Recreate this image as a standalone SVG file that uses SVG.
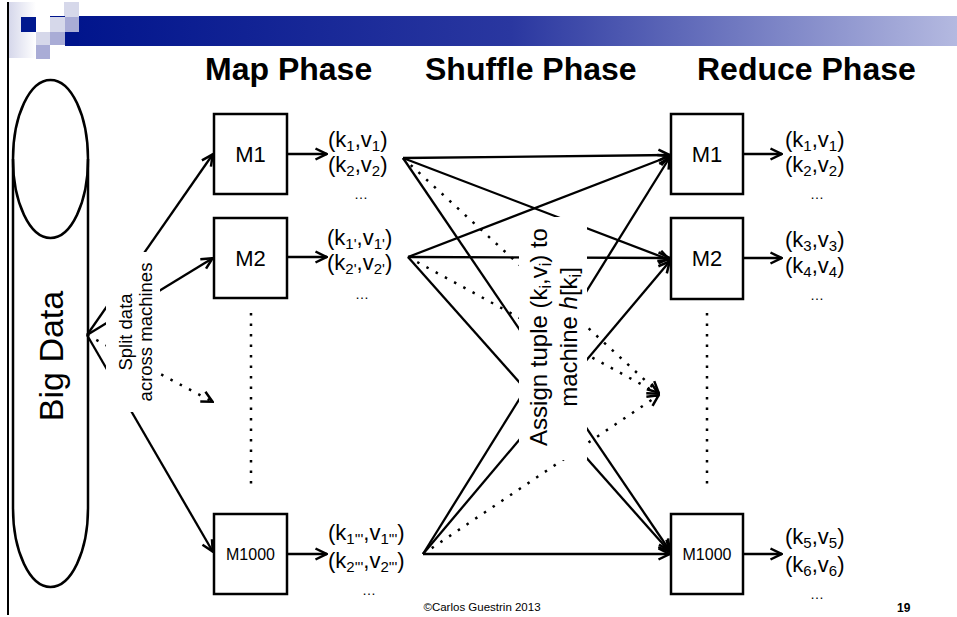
<svg xmlns="http://www.w3.org/2000/svg" width="957" height="617" viewBox="0 0 957 617">
<defs>
<linearGradient id="bar" x1="65" y1="0" x2="957" y2="0" gradientUnits="userSpaceOnUse">
<stop offset="0" stop-color="#00148c"/>
<stop offset="0.5" stop-color="#2a37a0"/>
<stop offset="1" stop-color="#b4b9e0"/>
</linearGradient>
<linearGradient id="lite" x1="0" y1="0" x2="1" y2="0">
<stop offset="0" stop-color="#d4d6ea"/>
<stop offset="1" stop-color="#ffffff"/>
</linearGradient>
<marker id="arr" viewBox="0 0 14 14" refX="13" refY="7" markerWidth="14" markerHeight="14" markerUnits="userSpaceOnUse" orient="auto">
<path d="M1.5,1.5 L12.5,7 L1.5,12.5" fill="none" stroke="#000" stroke-width="2.5"/>
</marker>
</defs>
<style>
.ln{stroke:#000;stroke-width:2.5;fill:none}
.ar{stroke:#000;stroke-width:2.3;fill:none;marker-end:url(#arr)}
.dt{stroke:#000;stroke-width:2.5;fill:none;stroke-dasharray:2.5 8}
.dta{stroke:#000;stroke-width:2.5;fill:none;stroke-dasharray:2.5 8;marker-end:url(#arr)}
.box{fill:#fff;stroke:#000;stroke-width:2.5}
.t{font-family:"Liberation Sans",Arial,sans-serif;fill:#000}
.ttl{font-family:"Liberation Sans",Arial,sans-serif;font-weight:bold;font-size:32px}
.kv{font-family:"Liberation Sans",Arial,sans-serif;font-size:22px}
.sb{font-size:15px}
.el{font-family:"Liberation Sans",Arial,sans-serif;font-size:14px;text-anchor:middle}
</style>
<rect width="957" height="617" fill="#fff"/>
<g id="header">
<rect x="8" y="2" width="28" height="56" fill="url(#lite)"/>
<rect x="21" y="17" width="15" height="15" fill="#00188f"/>
<rect x="50" y="17" width="15" height="15" fill="#d6d8ea"/>
<rect x="64" y="2" width="15" height="15" fill="#d6d8ea"/>
<rect x="65" y="17" width="14" height="15" fill="#a9acd6"/>
<rect x="36" y="32" width="14" height="13" fill="#d6d8ea"/>
<rect x="50" y="32" width="15" height="13" fill="#a9acd6"/>
<rect x="36" y="45" width="14" height="14" fill="#a9acd6"/>
<rect x="79" y="16" width="878" height="30" fill="url(#bar)"/>
<rect x="65" y="32" width="14" height="14" fill="#00148c"/>
<line x1="50" y1="16.5" x2="65" y2="16.5" stroke="#00148c" stroke-width="1"/>
<line x1="8" y1="2" x2="8" y2="615" stroke="#000" stroke-width="2"/>
</g>
<g id="titles">
<text class="ttl" x="205" y="80">Map Phase</text>
<text class="ttl" x="425" y="80">Shuffle Phase</text>
<text class="ttl" x="697" y="80">Reduce Phase</text>
</g>
<g id="bigdata">
<path class="ln" d="M13,159 L13,508 A37.5,79 0 0 0 88,508 L88,159"/>
<ellipse cx="50.5" cy="159" rx="37.5" ry="79" class="ln"/>
<text class="t" font-size="34" text-anchor="middle" transform="translate(63,356) rotate(-90)">Big Data</text>
</g>
<g id="connectors">
<line class="ar" x1="87" y1="335" x2="213" y2="154"/>
<line class="ar" x1="87" y1="335" x2="213" y2="258"/>
<line class="ar" x1="87" y1="335" x2="213" y2="552"/>
<line class="dta" x1="87" y1="335" x2="213" y2="402"/>
<line class="ar" x1="287" y1="154" x2="327" y2="154"/>
<line class="ar" x1="287" y1="257" x2="327" y2="257"/>
<line class="ar" x1="287" y1="554" x2="327" y2="554"/>
<line class="ar" x1="743" y1="154" x2="782" y2="154"/>
<line class="ar" x1="743" y1="258" x2="782" y2="258"/>
<line class="ar" x1="743" y1="554" x2="782" y2="554"/>
<line class="dt" x1="251" y1="313" x2="251" y2="490"/>
<line class="dt" x1="707" y1="313" x2="707" y2="490"/>
<line class="ar" x1="403" y1="158" x2="670" y2="155"/>
<line class="ar" x1="403" y1="158" x2="670" y2="260"/>
<line class="ar" x1="403" y1="158" x2="670" y2="551"/>
<line class="dta" x1="403" y1="158" x2="659" y2="393"/>
<line class="ar" x1="408" y1="257" x2="670" y2="156"/>
<line class="ar" x1="408" y1="257" x2="670" y2="258"/>
<line class="ar" x1="408" y1="257" x2="670" y2="552"/>
<line class="dta" x1="408" y1="257" x2="659" y2="394"/>
<line class="ar" x1="423" y1="554" x2="670" y2="157"/>
<line class="ar" x1="423" y1="554" x2="670" y2="261"/>
<line class="ar" x1="423" y1="554" x2="670" y2="554"/>
<line class="dta" x1="423" y1="554" x2="659" y2="395"/>
</g>
<g id="split-label">
<rect x="106" y="252" width="54" height="160" fill="#fff"/>
<text class="t" font-size="18.5" text-anchor="middle" transform="translate(132,332) rotate(-90)">Split data</text>
<text class="t" font-size="18.5" text-anchor="middle" transform="translate(152,332) rotate(-90)">across machines</text>
</g>
<g id="assign-label">
<rect x="519" y="217" width="68" height="243" fill="#fff"/>
<text class="t" font-size="24" text-anchor="middle" transform="translate(547,337) rotate(-90)">Assign tuple (k<tspan font-size="16" dy="4">i</tspan><tspan dy="-4">,v</tspan><tspan font-size="16" dy="4">i</tspan><tspan dy="-4">) to</tspan></text>
<text class="t" font-size="24" text-anchor="middle" transform="translate(577,337) rotate(-90)">machine  <tspan font-style="italic">h</tspan>[k<tspan font-size="16" dy="4">i</tspan><tspan dy="-4">]</tspan></text>
</g>
<g id="map-M1">
<rect class="box" x="214" y="114" width="73" height="80"/>
<text class="t" font-size="22" text-anchor="middle" x="250.5" y="162">M1</text>
<text class="kv" x="328" y="147">(k<tspan class="sb" dy="4">1</tspan><tspan dy="-4">,v</tspan><tspan class="sb" dy="4">1</tspan><tspan dy="-4">)</tspan></text>
<text class="kv" x="328" y="172">(k<tspan class="sb" dy="4">2</tspan><tspan dy="-4">,v</tspan><tspan class="sb" dy="4">2</tspan><tspan dy="-4">)</tspan></text>
<text class="el" x="361" y="199">…</text>
</g>
<g id="map-M2">
<rect class="box" x="214" y="218" width="73" height="80"/>
<text class="t" font-size="22" text-anchor="middle" x="250.5" y="266">M2</text>
<text class="kv" x="327" y="245">(k<tspan class="sb" dy="4">1'</tspan><tspan dy="-4">,v</tspan><tspan class="sb" dy="4">1'</tspan><tspan dy="-4">)</tspan></text>
<text class="kv" x="327" y="270">(k<tspan class="sb" dy="4">2'</tspan><tspan dy="-4">,v</tspan><tspan class="sb" dy="4">2'</tspan><tspan dy="-4">)</tspan></text>
<text class="el" x="362" y="299">…</text>
</g>
<g id="map-M1000">
<rect class="box" x="214" y="514" width="73" height="80"/>
<text class="t" font-size="16" text-anchor="middle" x="250.5" y="560">M1000</text>
<text class="kv" x="328" y="540">(k<tspan class="sb" dy="4">1'''</tspan><tspan dy="-4">,v</tspan><tspan class="sb" dy="4">1'''</tspan><tspan dy="-4">)</tspan></text>
<text class="kv" x="328" y="568">(k<tspan class="sb" dy="4">2'''</tspan><tspan dy="-4">,v</tspan><tspan class="sb" dy="4">2'''</tspan><tspan dy="-4">)</tspan></text>
<text class="el" x="369" y="595">…</text>
</g>
<g id="red-M1">
<rect class="box" x="671" y="114" width="72" height="80"/>
<text class="t" font-size="22" text-anchor="middle" x="707" y="162">M1</text>
<text class="kv" x="785" y="147">(k<tspan class="sb" dy="4">1</tspan><tspan dy="-4">,v</tspan><tspan class="sb" dy="4">1</tspan><tspan dy="-4">)</tspan></text>
<text class="kv" x="785" y="172">(k<tspan class="sb" dy="4">2</tspan><tspan dy="-4">,v</tspan><tspan class="sb" dy="4">2</tspan><tspan dy="-4">)</tspan></text>
<text class="el" x="817" y="199">…</text>
</g>
<g id="red-M2">
<rect class="box" x="671" y="218" width="72" height="81"/>
<text class="t" font-size="22" text-anchor="middle" x="707" y="266">M2</text>
<text class="kv" x="785" y="247">(k<tspan class="sb" dy="4">3</tspan><tspan dy="-4">,v</tspan><tspan class="sb" dy="4">3</tspan><tspan dy="-4">)</tspan></text>
<text class="kv" x="785" y="273">(k<tspan class="sb" dy="4">4</tspan><tspan dy="-4">,v</tspan><tspan class="sb" dy="4">4</tspan><tspan dy="-4">)</tspan></text>
<text class="el" x="817" y="300">…</text>
</g>
<g id="red-M1000">
<rect class="box" x="671" y="514" width="72" height="80"/>
<text class="t" font-size="16" text-anchor="middle" x="707" y="560">M1000</text>
<text class="kv" x="785" y="544">(k<tspan class="sb" dy="4">5</tspan><tspan dy="-4">,v</tspan><tspan class="sb" dy="4">5</tspan><tspan dy="-4">)</tspan></text>
<text class="kv" x="785" y="572">(k<tspan class="sb" dy="4">6</tspan><tspan dy="-4">,v</tspan><tspan class="sb" dy="4">6</tspan><tspan dy="-4">)</tspan></text>
<text class="el" x="817" y="599">…</text>
</g>
<g id="footer">
<text class="t" font-size="11.5" text-anchor="middle" x="482" y="611">©Carlos Guestrin 2013</text>
<text class="t" font-size="12" font-weight="bold" x="897" y="612">19</text>
</g>
</svg>
